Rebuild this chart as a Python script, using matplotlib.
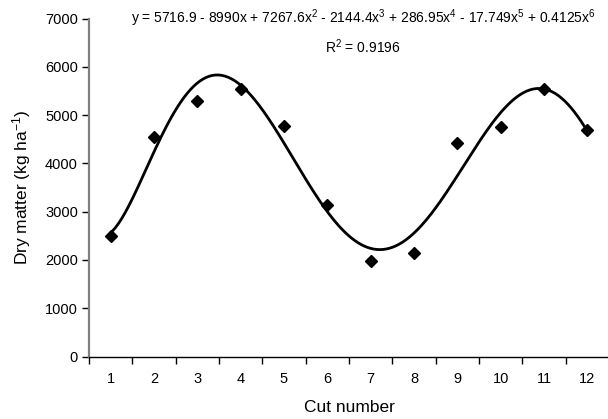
import numpy as np
import matplotlib
matplotlib.use("Agg")
import matplotlib.pyplot as plt

plt.rcParams['font.family'] = ['Liberation Sans', 'DejaVu Sans']
plt.rcParams['mathtext.fontset'] = 'custom'
plt.rcParams['mathtext.rm'] = 'Liberation Sans'
plt.rcParams['mathtext.it'] = 'Liberation Sans'

cuts = np.arange(1, 13)
dry_matter = [2495, 4545, 5295, 5535, 4775, 3130, 1980, 2155, 4430, 4760, 5545, 4690]

# 6th order trendline, as in the spreadsheet
coef = np.polyfit(cuts, dry_matter, 6)
xs = np.linspace(1, 12, 300)
ys = np.polyval(coef, xs)

fig = plt.figure(figsize=(6.08, 4.19), dpi=100, facecolor='white')
ax = fig.add_axes([89 / 608, 62.5 / 419, 520 / 608, 337.8 / 419])

ax.plot(xs, ys, color='black', linewidth=2.0, zorder=2)
ax.plot(cuts, dry_matter, linestyle='none', marker='D', markersize=6,
        color='black', zorder=3)

ax.set_xlim(0.5, 12.5)
ax.set_ylim(0, 7000)
ax.set_yticks(range(0, 7001, 1000))
ax.set_xticks(np.arange(0.5, 12.6, 1))
ax.set_xticklabels([])
ax.set_xticks(cuts, minor=True)
ax.set_xticklabels([str(c) for c in cuts], minor=True)
ax.tick_params(axis='x', which='minor', length=0, labelsize=10.5, pad=11)
ax.tick_params(axis='x', which='major', length=5, direction='out', width=1)
ax.tick_params(axis='y', length=5, direction='out', width=1, labelsize=10.5, pad=3)

for s in ['top', 'right']:
    ax.spines[s].set_visible(False)
ax.spines['left'].set_color('#808080')
ax.spines['left'].set_linewidth(1.6)
ax.spines['bottom'].set_linewidth(1.0)

ax.set_xlabel('Cut number', fontsize=12.5, labelpad=10)
ax.set_ylabel('Dry matter (kg ha$^{-1}$)', fontsize=12.5, labelpad=9)

fig.text(363 / 608, 1 - 18 / 419,
         'y = 5716.9 - 8990x + 7267.6x$^{2}$ - 2144.4x$^{3}$ + 286.95x$^{4}$'
         ' - 17.749x$^{5}$ + 0.4125x$^{6}$',
         ha='center', va='center', fontsize=10)
fig.text(363 / 608, 1 - 47 / 419, 'R$^{2}$ = 0.9196',
         ha='center', va='center', fontsize=10)

fig.savefig('out.png', dpi=100)
